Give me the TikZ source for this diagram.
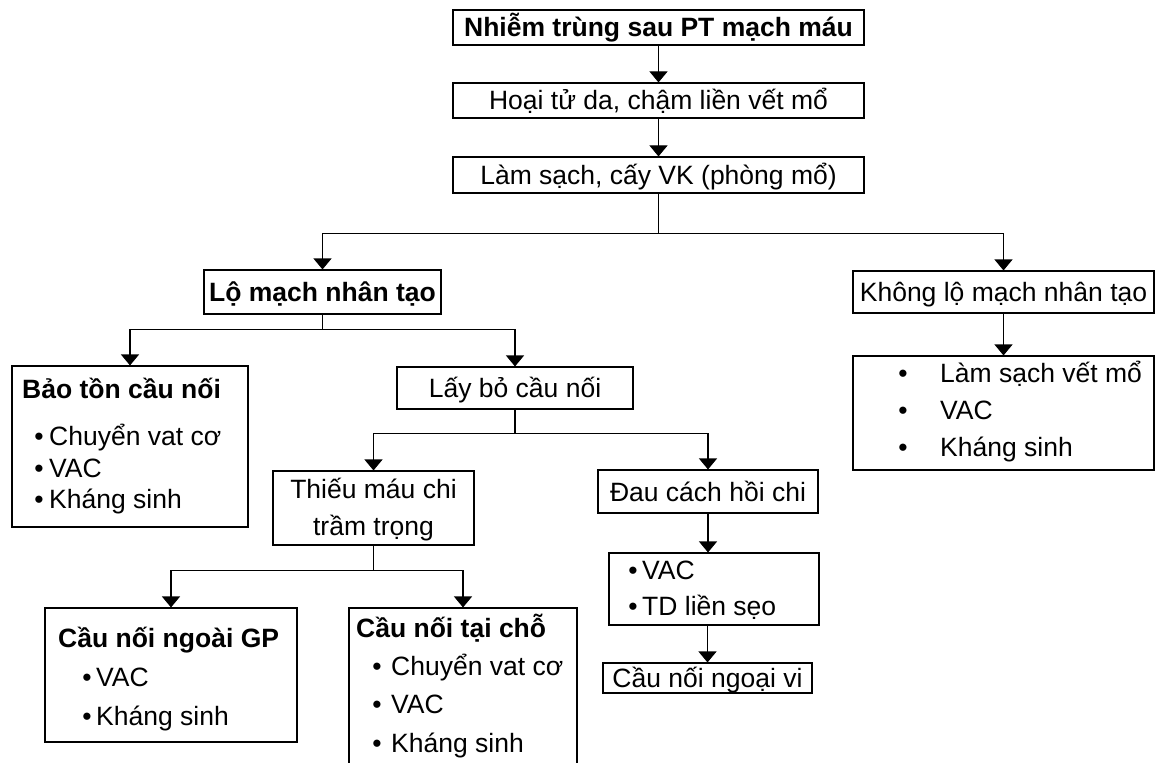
\documentclass[tikz,border=0pt]{standalone}
\usepackage{fontspec}
\setmainfont{Liberation Sans}
\usetikzlibrary{arrows.meta}
\begin{document}
\begin{tikzpicture}[x=1pt,y=-1pt,
  every node/.style={font=\fontsize{26.5}{32}\selectfont},
  box/.style={draw, line width=1.1pt, inner sep=0pt, text height=19pt, text depth=0pt},
  tl/.style={inner sep=0pt, anchor=base west},
  tc/.style={inner sep=0pt, anchor=base},
  bul/.style={inner sep=0pt, anchor=base},
  ln/.style={line width=1.1pt},
  arr/.style={line width=1.1pt, -{Triangle[width=18pt,length=11pt]}}]
\useasboundingbox (0,0) rectangle (1155,762);
% boxes
\node[box, minimum width=411pt, minimum height=35pt, font=\fontsize{26.5}{32}\selectfont\bfseries] (A) at (658.5,27.5) {Nhiễm trùng sau PT mạch máu};
\node[box, minimum width=411pt, minimum height=35pt] (B) at (658.5,100.5) {Hoại tử da, chậm liền vết mổ};
\node[box, minimum width=411pt, minimum height=36pt] (C) at (658.5,175) {Làm sạch, cấy VK (phòng mổ)};
\node[box, minimum width=237pt, minimum height=44pt, font=\fontsize{26.5}{32}\selectfont\bfseries] (D) at (322.5,292) {Lộ mạch nhân tạo};
\node[box, minimum width=301pt, minimum height=42pt] (E) at (1003.5,292) {Không lộ mạch nhân tạo};
\node[box, minimum width=301pt, minimum height=114pt] (F) at (1003.5,413) {};
\node[box, minimum width=236pt, minimum height=161pt] (G) at (130,446.5) {};
\node[box, minimum width=236pt, minimum height=42pt] (H) at (515,388) {Lấy bỏ cầu nối};
\node[box, minimum width=201pt, minimum height=74pt] (I) at (373.5,508) {};
\node[box, minimum width=220pt, minimum height=43pt] (J) at (708,491.5) {Đau cách hồi chi};
\node[box, minimum width=210pt, minimum height=72pt] (K) at (714,589) {};
\node[box, minimum width=209pt, minimum height=30pt] (L) at (707.5,678) {Cầu nối ngoại vi};
\node[box, minimum width=252pt, minimum height=134pt] (M) at (171,675) {};
\node[box, minimum width=228pt, minimum height=158pt] (N) at (463,687) {};
% texts in list boxes
\node[bul] (f1b) at (903,382) {•}; \node[tl] (f1) at (940,382) {Làm sạch vết mổ};
\node[bul] (f2b) at (903,419) {•}; \node[tl] (f2) at (940,419) {VAC};
\node[bul] (f3b) at (903,456) {•}; \node[tl] (f3) at (940,456) {Kháng sinh};
\node[tl, font=\fontsize{26.5}{32}\selectfont\bfseries] (g0) at (22,398) {Bảo tồn cầu nối};
\node[bul] (g1b) at (39,445) {•}; \node[tl] (g1) at (49,445) {Chuyển vat cơ};
\node[bul] (g2b) at (39,477) {•}; \node[tl] (g2) at (49,477) {VAC};
\node[bul] (g3b) at (39,508) {•}; \node[tl] (g3) at (49,508) {Kháng sinh};
\node[tc] (i1t) at (373.5,498) {Thiếu máu chi};
\node[tc] (i2t) at (373.5,535) {trầm trọng};
\node[bul] (k1b) at (633,579) {•}; \node[tl] (k1) at (642,579) {VAC};
\node[bul] (k2b) at (633,615) {•}; \node[tl] (k2) at (642,615) {TD liền sẹo};
\node[tl, font=\fontsize{26.5}{32}\selectfont\bfseries] (m0) at (58,647) {Cầu nối ngoài GP};
\node[bul] (m1b) at (87,686) {•}; \node[tl] (m1) at (96,686) {VAC};
\node[bul] (m2b) at (87,725) {•}; \node[tl] (m2) at (96,725) {Kháng sinh};
\node[tl, font=\fontsize{26.5}{32}\selectfont\bfseries] (n0) at (356,637) {Cầu nối tại chỗ};
\node[bul] (n1b) at (377,675) {•}; \node[tl] (n1) at (391,675) {Chuyển vat cơ};
\node[bul] (n2b) at (377,713) {•}; \node[tl] (n2) at (391,713) {VAC};
\node[bul] (n3b) at (377,752) {•}; \node[tl] (n3) at (391,752) {Kháng sinh};
% connectors
\draw[arr] (A.south) -- (B.north);
\draw[arr] (B.south) -- (C.north);
\draw[ln] (C.south) -- ++(0,40) coordinate (c1);
\draw[arr] (c1) -| (D.north);
\draw[arr] (c1) -| (E.north);
\draw[arr] (E.south) -- (F.north);
\draw[ln] (D.south) -- ++(0,15) coordinate (d1);
\draw[arr] (d1) -| (G.north);
\draw[arr] (d1) -| (H.north);
\draw[ln] (H.south) -- ++(0,24) coordinate (h1);
\draw[arr] (h1) -| (I.north);
\draw[arr] (h1) -| (J.north);
\draw[ln] (I.south) -- ++(0,25) coordinate (i1);
\draw[arr] (i1) -| (M.north);
\draw[arr] (i1) -| (N.north);
\draw[arr] (J.south) -- (J.south |- K.north);
\draw[arr] (L.north |- K.south) -- (L.north);
\end{tikzpicture}
\end{document}
